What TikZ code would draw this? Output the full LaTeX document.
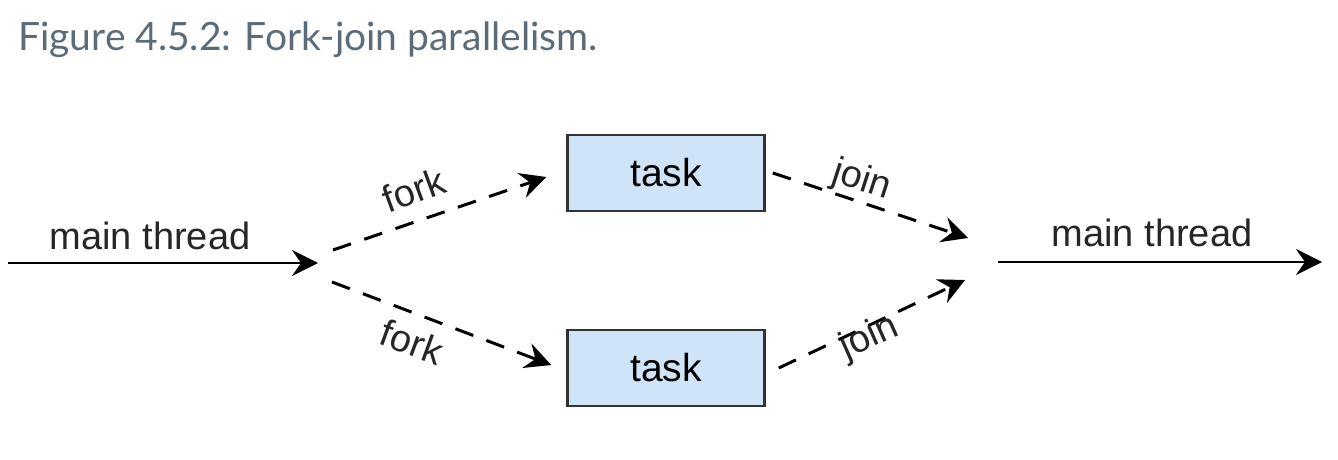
\documentclass[tikz,border=0pt]{standalone}
\usepackage{fontspec}
\setmainfont{Liberation Sans}
\newfontfamily\titlefont{Lato}
\usetikzlibrary{arrows.meta}
\definecolor{taskblue}{HTML}{CFE5F7}
\definecolor{captiongray}{HTML}{5B6B78}
\tikzset{
  taskbox/.style={draw=black!80, line width=2.5pt, fill=taskblue,
    minimum width=197pt, minimum height=76pt, font=\fontsize{39}{40}\selectfont},
  flow/.style={line width=2.5pt, -{Stealth[length=26pt,width=26pt,inset=9pt]}},
  dashflow/.style={flow, line width=3pt, dash pattern=on 19pt off 14pt},
  lbl/.style={font=\fontsize{38}{40}\selectfont, inner sep=0pt, text=black!85}
}
\begin{document}
\begin{tikzpicture}[x=1pt,y=-1pt]
    \useasboundingbox (0,0) rectangle (1338,460);
    \node[anchor=base west, inner sep=0pt, text=captiongray,
      font=\titlefont\fontsize{39}{44}\selectfont] (caption) at (18,51)
      {Figure 4.5.2: Fork-join parallelism.};

    \node[taskbox] (t1) at (666,173) {task};
    \node[taskbox] (t2) at (666,368) {task};

    \coordinate (in) at (8,263);
    \coordinate (fork) at (318,263);
    \coordinate (out) at (998,262);
    \coordinate (end) at (1322,262);
    \coordinate (f1) at (333,250);
    \coordinate (f2) at (332,282);
    \coordinate (m1) at (968,238);
    \coordinate (m2) at (965,280);

    \draw[flow] (in) -- (fork);
    \draw[flow] (out) -- (end);
    \node[lbl, anchor=base] (mt1) at (150,249) {main thread};
    \node[lbl, anchor=base] (mt2) at (1152,246) {main thread};

    \draw[dashflow] (f1) -- ([xshift=-20pt,yshift=-4pt]t1.west);
    \draw[dashflow] (f2) -- ([xshift=-15pt,yshift=3pt]t2.west);
    \draw[dashflow] ([xshift=7pt]t1.east) -- (m1);
    \draw[dashflow] ([xshift=13pt]t2.east) -- (m2);

    \node[lbl, rotate=20] (fk1) at (414,190) {fork};
    \node[lbl, rotate=-20] (fk2) at (412,342) {fork};
    \node[lbl, rotate=-18] (jn1) at (862,181) {join};
    \node[lbl, rotate=24] (jn2) at (870,338) {join};
\end{tikzpicture}
\end{document}
